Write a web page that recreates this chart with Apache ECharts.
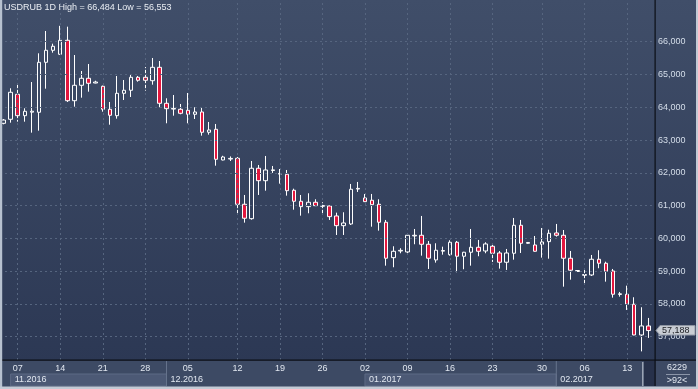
<!DOCTYPE html>
<html><head><meta charset="utf-8">
<script src="https://cdn.jsdelivr.net/npm/echarts@6/dist/echarts.min.js"></script>
<style>html,body{margin:0;padding:0;background:#2f3b57;overflow:hidden}#c{width:698px;height:389px}</style>
</head><body><div id="c"></div>
<script>
// ---- data ----
const categories = [
'2016-11-04','2016-11-06','2016-11-07','2016-11-08','2016-11-09','2016-11-10','2016-11-11','2016-11-13',
'2016-11-14','2016-11-15','2016-11-16','2016-11-17','2016-11-18','2016-11-20',
'2016-11-21','2016-11-22','2016-11-23','2016-11-24','2016-11-25','2016-11-27',
'2016-11-28','2016-11-29','2016-11-30','2016-12-01','2016-12-02','2016-12-04',
'2016-12-05','2016-12-06','2016-12-07','2016-12-08','2016-12-09','2016-12-10','2016-12-11',
'2016-12-12','2016-12-13','2016-12-14','2016-12-15','2016-12-16','2016-12-18',
'2016-12-19','2016-12-20','2016-12-21','2016-12-22','2016-12-23','2016-12-25',
'2016-12-26','2016-12-27','2016-12-28','2016-12-29','2016-12-30','2017-01-01',
'2017-01-02','2017-01-03','2017-01-04','2017-01-05','2017-01-06','2017-01-08',
'2017-01-09','2017-01-10','2017-01-11','2017-01-12','2017-01-13','2017-01-15',
'2017-01-16','2017-01-17','2017-01-18','2017-01-19','2017-01-20','2017-01-22',
'2017-01-23','2017-01-24','2017-01-25','2017-01-26','2017-01-27','2017-01-28','2017-01-29',
'2017-01-30','2017-01-31','2017-02-01','2017-02-02','2017-02-03','2017-02-05',
'2017-02-06','2017-02-07','2017-02-08','2017-02-09','2017-02-10','2017-02-12',
'2017-02-13','2017-02-14','2017-02-15','2017-02-16'
];
const opens = [63510,63633,64396,63743,63850,63847,65372,65738,65616,66043,64200,64670,64884,64740,64640,63938,63743,64426,64518,64914,
64914,64810,65219,64121,63945,63938,63908,63786,63856,63237,63328,62392,62420,62444,61041,60601,62139,61760,62070,61960,
61956,61468,61132,60968,61102,60980,60989,60684,60388,60440,61505,61233,61163,61041,60492,59412,59615,59586,60075,60095,
59821,59342,59610,59503,59882,59455,59577,59729,59616,59760,59555,59272,59546,60400,59850,59799,59821,59900,60165,60095,
59394,58990,58875,58884,59363,59241,59006,58290,58296,57991,57054,57329];
const closes = [63610,64457,63743,63877,63880,65372,65738,65860,66043,64200,64670,64884,64731,64770,63938,63755,64426,64518,64914,64823,
64823,65219,64121,63957,63965,63816,63786,63856,63237,63307,62413,62483,62440,61041,60614,62139,61760,62087,62090,61980,
61455,61132,60968,61102,60998,61000,60663,60388,60470,61498,61525,61120,61028,60492,59394,59607,59635,60095,60095,59821,
59394,59638,59630,59882,59455,59577,59729,59607,59830,59546,59272,59555,60400,59851,59875,59607,59891,60156,60095,59394,
59028,59020,58895,59363,59241,58997,58296,58310,57991,57054,57329,57188];
const lows = [63480,63530,63560,63560,63225,63285,64567,65665,65600,64160,64017,64292,64475,64730,63865,63468,63652,64222,64313,64780,
64506,64689,64000,63511,63743,63786,63511,63642,63133,63164,62218,62380,62360,60766,60480,60571,61324,61455,61996,61669,
61303,60876,60693,60766,60985,60745,60562,60104,60104,60409,61416,61110,60357,60236,59168,59119,59546,59546,59821,59473,
59067,59260,59503,59473,58967,59058,59168,59455,59546,59281,59077,59037,59351,59555,59835,59595,59412,59381,60053,58527,
58741,58985,58588,58854,59089,58680,58192,58222,57817,57045,56553,56963];
const highs = [63640,64579,64710,63969,64770,65646,66326,65939,66484,66458,65594,65106,65320,64810,64660,64161,64954,64832,64984,64954,
65228,65503,65411,64274,64374,64100,64435,64000,64000,63551,63490,62520,62500,62483,61324,62361,62239,62514,62209,62117,
62087,61516,61324,61376,61193,61102,61000,60785,60797,61660,61721,61355,61355,61193,60562,59760,59700,60156,60287,60684,
59921,59851,59747,59943,59921,59590,60287,59952,59882,59821,59616,59677,60623,60562,59890,60073,60317,60266,60440,60256,
59616,59030,59088,59494,59638,59290,59067,58366,58558,58204,57899,57573];
const yTickValues = [57000,58000,59000,60000,61000,62000,63000,64000,65000,66000];
const dayLabelIdx = [2,8,14,20,26,33,39,45,51,57,63,69,76,82,88];
const monthStartIdx = [1,23,51,78];
const monthLabels = ['11.2016','12.2016','01.2017','02.2017'];
const symbolName = 'USDRUB';
const periodName = '1D';
const barCount = 92;
const volumeText = '6229';

// ---- chart ----
const FONT = "'Liberation Sans', Arial, sans-serif";
const fmt = v => v.toLocaleString('en-US');
const candleData = opens.map((o, i) => [o, closes[i], lows[i], highs[i]]);
const maxHigh = Math.max(...highs), minLow = Math.min(...lows);
const daySet = new Set(dayLabelIdx), monthSet = new Set(monthStartIdx);
const GRID_COLOR = '#56657f';

const chart = echarts.init(document.getElementById('c'), null, {renderer: 'canvas'});
const option = {
  animation: false,
  backgroundColor: {type: 'linear', x: 0, y: 0, x2: 0, y2: 1,
    colorStops: [{offset: 0, color: '#404e69'}, {offset: 0.93, color: '#2c3854'}, {offset: 1, color: '#2c3854'}]},
  title: {
    text: `${symbolName} ${periodName} High = ${fmt(maxHigh)} Low = ${fmt(minLow)}`,
    left: 4, top: 3, padding: 0,
    textStyle: {color: '#e9edf3', fontSize: 9, fontWeight: 'normal', fontFamily: FONT}
  },
  grid: {left: -1.25, top: 0, width: 653.2, height: 360, containLabel: false},
  xAxis: [{
    type: 'category', data: categories, boundaryGap: true, position: 'bottom',
    axisLine: {show: false}, axisTick: {show: false}, splitLine: {show: false},
    axisLabel: {interval: (i) => daySet.has(i), formatter: v => v.slice(8, 10),
      color: '#e1e7f0', fontSize: 9, fontFamily: FONT, margin: 4.5}
  }, {
    type: 'category', data: categories, boundaryGap: true, position: 'bottom', offset: 0,
    axisLine: {show: false}, axisTick: {show: false}, splitLine: {show: false},
    axisLabel: {interval: (i) => monthSet.has(i), formatter: (v, i) => monthLabels[monthStartIdx.indexOf(i)],
      align: 'left', padding: [0, 0, 0, 4], color: '#e1e7f0', fontSize: 9, fontFamily: FONT, margin: 15.5}
  }],
  yAxis: {
    type: 'value', position: 'right', min: 56290, max: 67272,
    axisLine: {show: false}, axisTick: {show: false},
    axisLabel: {margin: 6, color: '#d5deea', fontSize: 9, fontFamily: FONT,
      customValues: yTickValues, formatter: v => fmt(v)},
    splitLine: {show: false}
  },
  series: [{
    type: 'scatter', data: [], xAxisIndex: 0, yAxisIndex: 0, z: 1, silent: true,
    markLine: {silent: true, symbol: ['none', 'none'], label: {show: false}, animation: false,
      lineStyle: {color: GRID_COLOR, type: [2, 3], width: 1},
      emphasis: {disabled: true},
      data: dayLabelIdx.map(i => ({xAxis: categories[i]})).concat(yTickValues.map(v => ({yAxis: v})))}
  }, {
    type: 'candlestick', data: candleData, xAxisIndex: 0, yAxisIndex: 0, barWidth: 4, z: 3,
    itemStyle: {color: 'rgba(0,0,0,0)', color0: '#e3173e', borderColor: '#ffffff', borderColor0: '#ffffff',
      borderColorDoji: '#ffffff', borderWidth: 1}
  }]
};
chart.setOption(option);

function px(i) { return chart.convertToPixel({xAxisIndex: 0}, categories[i]); }
const lastClose = closes[closes.length - 1];
const py = chart.convertToPixel({yAxisIndex: 0}, lastClose);
const x0 = px(monthStartIdx[0]), x1 = px(monthStartIdx[1]), x2 = px(monthStartIdx[2]), x3 = px(monthStartIdx[3]);
const elements = [
  {type: 'rect', z: -2, shape: {x: 0, y: 360, width: 698, height: 29}, style: {fill: '#3d4a64'}},
  {type: 'rect', z: -1, shape: {x: x0, y: 374, width: x1 - x0, height: 12}, style: {fill: '#4c5975', stroke: '#5d6a85', lineWidth: 1}},
  {type: 'rect', z: -1, shape: {x: x2, y: 374, width: x3 - x2, height: 12}, style: {fill: '#4c5975', stroke: '#5d6a85', lineWidth: 1}},
  {type: 'line', z: -1, shape: {x1: x1, y1: 361, x2: x1, y2: 386}, style: {stroke: '#66738d', lineWidth: 1}},
  {type: 'line', z: -1, shape: {x1: x3, y1: 361, x2: x3, y2: 386}, style: {stroke: '#66738d', lineWidth: 1}},
  {type: 'rect', z: -1, shape: {x: 644, y: 361, width: 11, height: 25}, style: {fill: '#27314a'}},
  {type: 'rect', z: -1, shape: {x: 642, y: 362, width: 1.5, height: 24}, style: {fill: '#9aa3b3'}},
  {type: 'rect', z: 50, shape: {x: 654.5, y: 0, width: 1.2, height: 386}, style: {fill: '#0b0e15'}},
  {type: 'rect', z: 50, shape: {x: 2, y: 359.6, width: 694, height: 1.2}, style: {fill: '#0b0e15'}},
  {type: 'rect', z: 50, shape: {x: 0, y: 0, width: 2.2, height: 389}, style: {fill: '#b7c1cf'}},
  {type: 'rect', z: 50, shape: {x: 0, y: 386.5, width: 698, height: 2.5}, style: {fill: '#c3cad5'}},
  {type: 'rect', z: 50, shape: {x: 696, y: 0, width: 2, height: 389}, style: {fill: '#c3cad5'}},
  {type: 'text', z: 60, style: {text: volumeText, x: 677, y: 368, align: 'center', verticalAlign: 'middle', fill: '#e1e7f0', font: `9px ${FONT}`}},
  {type: 'line', z: 60, shape: {x1: 666, y1: 374.5, x2: 690, y2: 374.5}, style: {stroke: '#8b95a8', lineWidth: 1}},
  {type: 'text', z: 60, style: {text: '>' + barCount + '<', x: 677, y: 380.5, align: 'center', verticalAlign: 'middle', fill: '#e1e7f0', font: `9px ${FONT}`}},
  {type: 'polygon', z: 60, shape: {points: [[656, py], [660, py - 5], [695, py - 5], [695, py + 4.5], [660, py + 4.5]]},
    style: {fill: '#c9cdd4', stroke: '#8e96a3', lineWidth: 1}},
  {type: 'text', z: 61, style: {text: fmt(lastClose), x: 662, y: py, align: 'left', verticalAlign: 'middle', fill: '#1b1d22', font: `9px ${FONT}`}}
];
chart.setOption({graphic: {elements}});
</script>
</body></html>
